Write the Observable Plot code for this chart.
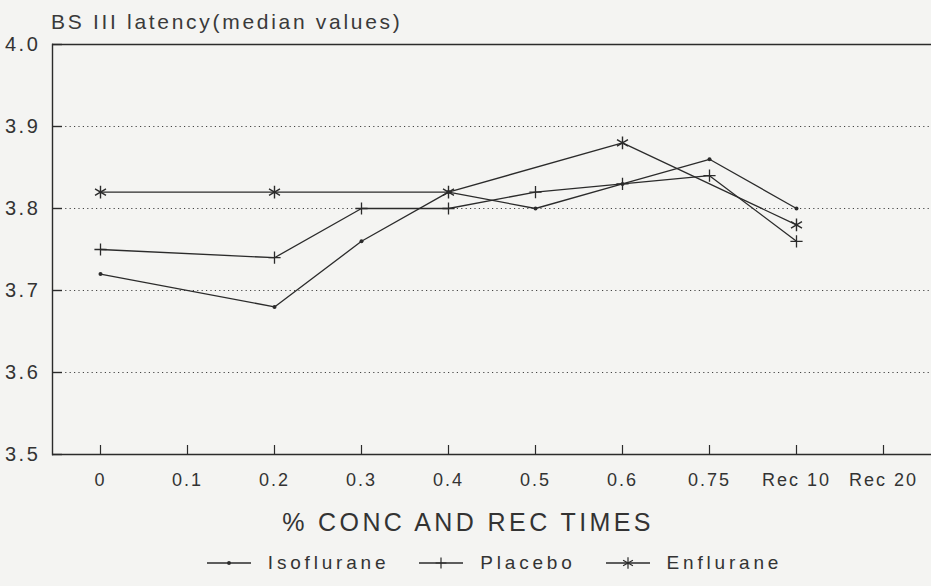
<!DOCTYPE html>
<html>
<head>
<meta charset="utf-8">
<script src="https://cdn.jsdelivr.net/npm/d3@7"></script>
<script src="https://cdn.jsdelivr.net/npm/@observablehq/plot@0.6"></script>
<style>
  html, body { margin: 0; padding: 0; background: #f4f4f2; }
  body { position: relative; width: 931px; height: 586px; overflow: hidden; font-family: "Liberation Sans", Arial, sans-serif; color: #333; }
  #title { position: absolute; left: 51px; top: 10px; font-size: 21px; letter-spacing: 2.7px; line-height: 24px; color: #3a3a3a; white-space: nowrap; }
  #chart { position: absolute; left: 0; top: 36px; }
  #chart svg { display: block; overflow: visible; }
  #chart g[aria-label="y-axis tick label"] text { font-size: 20px; letter-spacing: 2.6px; }
  #chart g[aria-label="x-axis tick label"] text { font-size: 18px; letter-spacing: 2px; }
  #xtitle { position: absolute; left: 0; width: 936px; top: 507px; text-align: center; font-size: 25px; letter-spacing: 3.4px; line-height: 30px; color: #333; white-space: nowrap; }
  #legend { position: absolute; left: 29px; width: 931px; top: 551px; display: flex; justify-content: center; align-items: center; font-size: 19px; letter-spacing: 3.8px; line-height: 24px; color: #333; }
  #legend .item { display: flex; align-items: center; margin: 0 15px; }
  #legend svg { margin-right: 17px; }
</style>
</head>
<body>
<div id="title">BS III latency(median values)</div>
<div id="chart"></div>
<div id="xtitle">% CONC AND REC TIMES</div>
<div id="legend"></div>
<script>
// Category axis: anaesthetic concentration (%) and recovery times
const categories = ["0", "0.1", "0.2", "0.3", "0.4", "0.5", "0.6", "0.75", "Rec 10", "Rec 20"];
const yTicks = [3.5, 3.6, 3.7, 3.8, 3.9, 4.0];

// Median BS III latency per group
const isofluraneX = ["0", "0.2", "0.3", "0.4", "0.5", "0.6", "0.75", "Rec 10"];
const isofluraneY = [3.72, 3.68, 3.76, 3.82, 3.80, 3.83, 3.86, 3.80];

const placeboX = ["0", "0.2", "0.3", "0.4", "0.5", "0.6", "0.75", "Rec 10"];
const placeboY = [3.75, 3.74, 3.80, 3.80, 3.82, 3.83, 3.84, 3.76];

const enfluraneX = ["0", "0.2", "0.4", "0.6", "Rec 10"];
const enfluraneY = [3.82, 3.82, 3.82, 3.88, 3.78];

const seriesNames = ["Isoflurane", "Placebo", "Enflurane"];
const seriesSymbols = ["circle", "plus", "asterisk"];

const toRows = (name, xs, ys) => xs.map((x, i) => ({series: name, x, y: ys[i]}));
const iso = toRows("Isoflurane", isofluraneX, isofluraneY);
const pla = toRows("Placebo", placeboX, placeboY);
const enf = toRows("Enflurane", enfluraneX, enfluraneY);

const ink = "#2b2b2b";

const chart = Plot.plot({
  width: 931,
  height: 470,
  marginLeft: 52,
  marginRight: 0,
  marginTop: 8,
  marginBottom: 52,
  style: {background: "transparent", fontFamily: "Liberation Sans, Arial, sans-serif", color: "#333"},
  x: {type: "point", domain: categories, padding: 0.5},
  y: {domain: [3.5, 4.0]},
  marks: [
    Plot.gridY(yTicks.slice(1, -1), {stroke: "#444", strokeOpacity: 1, strokeWidth: 1, strokeDasharray: "1.2,3.2"}),
    Plot.ruleY([3.5, 4.0], {stroke: ink, strokeWidth: 1.4}),
    Plot.frame({anchor: "left", stroke: ink, strokeWidth: 1.4}),
    Plot.axisY(yTicks, {tickSize: -10, tickPadding: 22, tickFormat: d3.format(".1f"), stroke: ink, strokeWidth: 1.4, label: null}),
    Plot.axisX({tickSize: -9, tickPadding: 28, stroke: ink, strokeWidth: 1.2, label: null}),
    Plot.line(iso, {x: "x", y: "y", stroke: ink, strokeWidth: 1.3}),
    Plot.line(pla, {x: "x", y: "y", stroke: ink, strokeWidth: 1.3}),
    Plot.line(enf, {x: "x", y: "y", stroke: ink, strokeWidth: 1.3}),
    Plot.dot(iso, {x: "x", y: "y", r: 2, fill: ink, stroke: "none"}),
    Plot.dot(pla, {x: "x", y: "y", symbol: "plus", r: 4, stroke: ink, strokeWidth: 1.3, fill: "none"}),
    Plot.dot(enf, {x: "x", y: "y", symbol: "asterisk", r: 6, stroke: ink, strokeWidth: 1.4, fill: "none"})
  ]
});
document.getElementById("chart").appendChild(chart);

// Legend: short line segment with the series marker, then the name
const legend = document.getElementById("legend");
const symbolTypes = {circle: d3.symbolCircle, plus: d3.symbolPlus, asterisk: d3.symbolAsterisk};
const symbolSizes = {circle: 12, plus: 40, asterisk: 90};
seriesNames.forEach((name, i) => {
  const item = document.createElement("div");
  item.className = "item";
  const s = d3.create("svg").attr("width", 44).attr("height", 16);
  s.append("line").attr("x1", 0).attr("x2", 44).attr("y1", 8).attr("y2", 8).attr("stroke", ink).attr("stroke-width", 1.3);
  const key = seriesSymbols[i];
  s.append("path")
    .attr("transform", "translate(22,8)")
    .attr("d", d3.symbol(symbolTypes[key], symbolSizes[key])())
    .attr("fill", key === "circle" ? ink : "none")
    .attr("stroke", key === "circle" ? "none" : ink)
    .attr("stroke-width", 1.2);
  item.appendChild(s.node());
  const label = document.createElement("span");
  label.textContent = name;
  item.appendChild(label);
  legend.appendChild(item);
});
</script>
</body>
</html>
